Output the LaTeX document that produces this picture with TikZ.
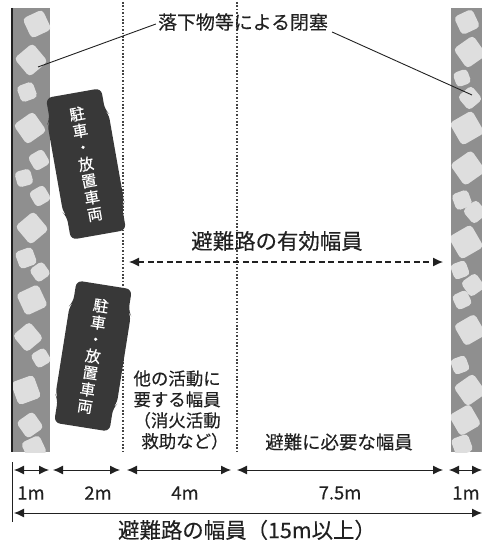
\documentclass[tikz,border=0pt]{standalone}
\usepackage{fontspec}
\setmainfont{Noto Sans CJK JP}[FakeBold=0.3]
\usetikzlibrary{arrows.meta}

\definecolor{rubble}{gray}{0.56}
\definecolor{stonegray}{gray}{0.87}
\definecolor{carbody}{gray}{0.22}
\definecolor{ink}{gray}{0.13}

\tikzset{
  wall/.style={fill=rubble},
  stone/.style={fill=stonegray, rounded corners=4bp, inner sep=0pt},
  divider/.style={line width=1.8bp, dash pattern=on 1.6bp off 1.8bp, ink!85},
  dim/.style={{Latex[length=10bp,width=9bp]}-{Latex[length=10bp,width=9bp]}, line width=1bp, ink},
  effective/.style={dash pattern=on 6bp off 3.5bp, line width=1.2bp, ink,
    {Latex[length=10bp,width=9bp]}-{Latex[length=10bp,width=9bp]}},
  leader/.style={line width=0.9bp, ink},
  lbl/.style={text=ink, inner sep=0pt, font=\fontsize{18.5}{21}\selectfont},
  notelbl/.style={text=ink, inner sep=0pt, align=left, font=\fontsize{17.5}{21}\selectfont},
  biglbl/.style={text=ink, inner sep=0pt, font=\fontsize{21.5}{24}\selectfont},
  cartext/.style={text=white, align=center, inner sep=0pt, transform shape,
    font=\fontsize{15.5}{17}\selectfont},
  car/.pic={
    \fill[carbody, rounded corners=6bp] (-28,-72) -- (28,-72) -- (28,-50) -- (31,-46)
      -- (31,44) -- (28,48) -- (28,72) -- (-28,72) -- (-28,48) -- (-31,44)
      -- (-31,-46) -- (-28,-50) -- cycle;
    \node[cartext] {駐\\車\\・\\放\\置\\車\\両};
  }
}

\begin{document}
\begin{tikzpicture}[x=1bp, y=-1bp]
\useasboundingbox (0,0) rectangle (482,540);

% rubble along both road edges
\fill[wall] (12,8) rectangle (50,452);
\fill[wall] (451,8) rectangle (482,452);
\begin{scope}
  \clip (12,8) rectangle (50,452);
  \foreach \x/\y/\s/\a in {37/24/22/25, 31/60/24/40, 27/92/17/20, 30/128/24/35,
      39/160/17/30, 24/178/16/15, 40/196/17/30, 32/228/24/40, 26/258/18/20,
      40/272/16/35, 32/300/24/25, 28/337/22/40, 41/358/16/30, 26/390/24/20,
      30/425/20/35, 34/448/20/25}
    \node[stone, minimum size=\s bp, rotate=\a] at (\x,\y) {};
\end{scope}
\begin{scope}
  \clip (451,8) rectangle (482,452);
  \foreach \x/\y/\s/\a in {467/22/20/25, 470/52/24/35, 462/78/15/20, 470/98/18/40,
      467/128/26/30, 468/168/26/35, 462/200/17/20, 475/212/18/40, 466/242/26/30,
      460/270/16/20, 473/285/18/35, 462/300/16/25, 470/330/24/30, 460/365/16/20,
      470/390/24/35, 465/420/24/30, 462/445/18/20}
    \node[stone, minimum size=\s bp, rotate=\a] at (\x,\y) {};
\end{scope}
\draw[line width=1.2bp, ink] (12,8) -- (12,452);

% lane boundaries
\coordinate (laneA top) at (123,2);
\coordinate (laneA bot) at (123,452);
\coordinate (laneB top) at (237,2);
\coordinate (laneB bot) at (237,452);
\draw[divider] (laneA top) -- (laneA bot);
\draw[divider] (laneB top) -- (laneB bot);

% parked cars
\pic[rotate=10] at (86,164) {car};
\pic[rotate=-9] at (93,356) {car};

% falling objects
\node[lbl, font=\fontsize{19}{22}\selectfont] (block) at (243,22) {落下物等による閉塞};
\coordinate (stoneL) at (38,67);
\coordinate (stoneR) at (472,95);
\draw[leader] (block.west) ++(-2,2) -- (stoneL);
\draw[leader] (block.east) ++(4,10) -- (stoneR);

% effective width
\node[biglbl] (eff) at (277,241) {避難路の有効幅員};
\coordinate (effL) at (129,262);
\coordinate (effR) at (443,262);
\draw[effective] (effL) -- (effR);

\node[notelbl] (other) at (181,410) {他の活動に\\要する幅員\\（消火活動\\\ \ 救助など）};
\node[lbl] (evac) at (339,442) {避難に必要な幅員};

% dimension line
\coordinate (w0) at (14,470);
\coordinate (w1a) at (49,470);
\coordinate (w1b) at (53,470);
\coordinate (w2a) at (120,470);
\coordinate (w2b) at (127,470);
\coordinate (w3a) at (231,470);
\coordinate (w3b) at (237,470);
\coordinate (w4a) at (443,470);
\coordinate (w4b) at (449,470);
\coordinate (w5) at (482,470);
\draw[dim] (w0) -- (w1a);
\draw[dim] (w1b) -- (w2a);
\draw[dim] (w2b) -- (w3a);
\draw[dim] (w3b) -- (w4a);
\draw[dim] (w4b) -- (w5);
\draw[line width=0.9bp, ink] (12,462) -- (12,522);

\node[lbl] (m1) at (31,493) {1m};
\node[lbl] (m2) at (98,493) {2m};
\node[lbl] (m3) at (185,493) {4m};
\node[lbl] (m4) at (340,493) {7.5m};
\node[lbl] (m5) at (466,493) {1m};

\coordinate (tL) at (14,513);
\coordinate (tR) at (482,513);
\draw[dim] (tL) -- (tR);
\node[biglbl] (total) at (247,530) {避難路の幅員（15m以上）};
\end{tikzpicture}
\end{document}
